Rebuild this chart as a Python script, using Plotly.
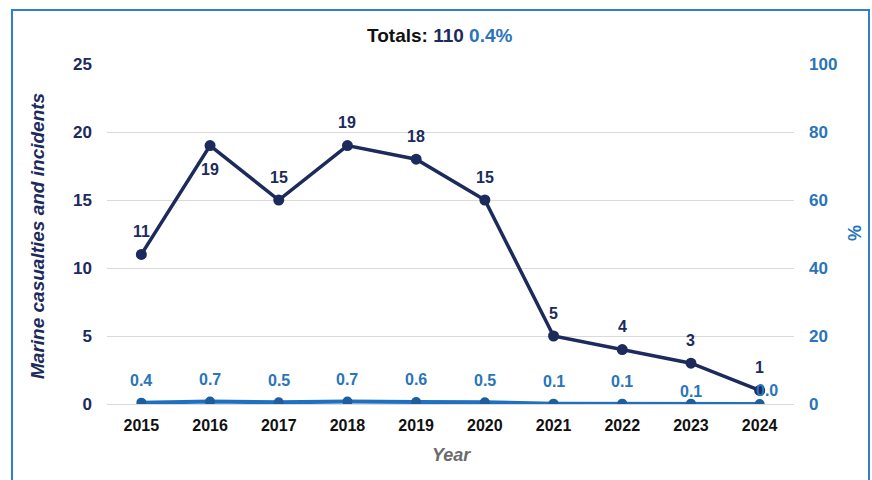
import plotly.graph_objects as go

# Data
years = ["2015", "2016", "2017", "2018", "2019", "2020", "2021", "2022", "2023", "2024"]
casualties = [11, 19, 15, 19, 18, 15, 5, 4, 3, 1]
percent = [0.4, 0.7, 0.5, 0.7, 0.6, 0.5, 0.1, 0.1, 0.1, 0.0]
total_casualties = 110
total_percent = 0.4

# Label placement (pixel offsets from each marker)
count_label_yshift = [23, -24, 23, 23, 23, 23, 23, 23, 23, 23]
pct_label_yshift = [22, 22, 22, 22, 22, 22, 22, 22, 12, 14]
pct_label_xshift = [0, 0, 0, 0, 0, 0, 0, 0, 0, 7]

NAVY = "#1c2a5c"
BLUE = "#2a74b8"
BLUE_LINE = "#1f70c0"
BLUE_MARK = "#1d5e9e"
FRAME = "#2f80d2"
GRID = "#d9d9d9"
FONT = "Liberation Sans, Arial, sans-serif"

W, H = 872, 480
ML, MR, MT, MB = 107, 78, 64, 76
PW, PH = W - ML - MR, H - MT - MB


def px_x(p):
    return (p - ML) / PW


def px_y(p):
    return (H - MB - p) / PH


fig = go.Figure()

fig.add_trace(go.Scatter(
    x=years, y=casualties, mode="lines+markers", yaxis="y",
    line=dict(color=NAVY, width=3.5),
    marker=dict(color=NAVY, size=11),
    showlegend=False, hoverinfo="x+y",
))

fig.add_trace(go.Scatter(
    x=years, y=percent, mode="lines+markers", yaxis="y2",
    line=dict(color=BLUE_LINE, width=4),
    marker=dict(color=BLUE_MARK, size=10),
    showlegend=False, hoverinfo="x+y",
))

annotations = []
for i, (v, dy) in enumerate(zip(casualties, count_label_yshift)):
    annotations.append(dict(
        x=i, y=v, xref="x", yref="y", text=f"<b>{v}</b>", showarrow=False,
        yshift=dy, font=dict(family=FONT, size=16, color=NAVY),
    ))
for i, (v, dy, dx) in enumerate(zip(percent, pct_label_yshift, pct_label_xshift)):
    annotations.append(dict(
        x=i, y=v, xref="x", yref="y2", text=f"<b>{v:.1f}</b>", showarrow=False,
        yshift=dy, xshift=dx, font=dict(family=FONT, size=16, color=BLUE),
    ))

centered = dict(xref="paper", yref="paper", showarrow=False,
                xanchor="center", yanchor="middle")

# Title
annotations.append(dict(
    x=px_x(440), y=px_y(35), **centered,
    text=(f"<b>Totals: <span style='color:{NAVY}'>{total_casualties}</span> "
          f"<span style='color:{BLUE}'>{total_percent}%</span></b>"),
    font=dict(family=FONT, size=19, color="#111111"),
))
# Axis titles
annotations.append(dict(
    x=px_x(37), y=px_y(236), **centered,
    text="<b><i>Marine casualties and incidents</i></b>", textangle=-90,
    font=dict(family=FONT, size=19, color=NAVY),
))
annotations.append(dict(
    x=px_x(855), y=px_y(233), **centered,
    text="<b>%</b>", textangle=-90,
    font=dict(family=FONT, size=18, color=BLUE),
))
annotations.append(dict(
    x=px_x(451), y=px_y(455), **centered,
    text="<b><i>Year</i></b>",
    font=dict(family=FONT, size=18, color="#6b6b6b"),
))

fig.update_layout(
    width=W, height=H,
    margin=dict(l=ML, r=MR, t=MT, b=MB),
    paper_bgcolor="white", plot_bgcolor="white",
    annotations=annotations,
    shapes=[dict(
        type="rect", xref="paper", yref="paper",
        x0=px_x(12), x1=px_x(869), y0=px_y(10), y1=px_y(500),
        line=dict(color=FRAME, width=2), fillcolor="rgba(0,0,0,0)", layer="below",
    )],
    xaxis=dict(
        type="category", range=[-0.5, len(years) - 0.5],
        showgrid=False, showline=False, zeroline=False,
        tickfont=dict(family=FONT, size=16, color="#111111", weight="bold"),
        ticklabelstandoff=10, ticks="",
    ),
    yaxis=dict(
        range=[0, 25], dtick=5, showgrid=True, gridcolor=GRID, gridwidth=1,
        zeroline=True, zerolinecolor=GRID, zerolinewidth=1, showline=False,
        tickfont=dict(family=FONT, size=17, color=NAVY, weight="bold"),
        ticklabelstandoff=14, ticks="",
    ),
    yaxis2=dict(
        range=[0, 100], dtick=20, overlaying="y", side="right",
        showgrid=False, zeroline=False, showline=False,
        tickfont=dict(family=FONT, size=17, color=BLUE, weight="bold"),
        ticklabelstandoff=14, ticks="",
    ),
)

fig.write_html("out.html")
